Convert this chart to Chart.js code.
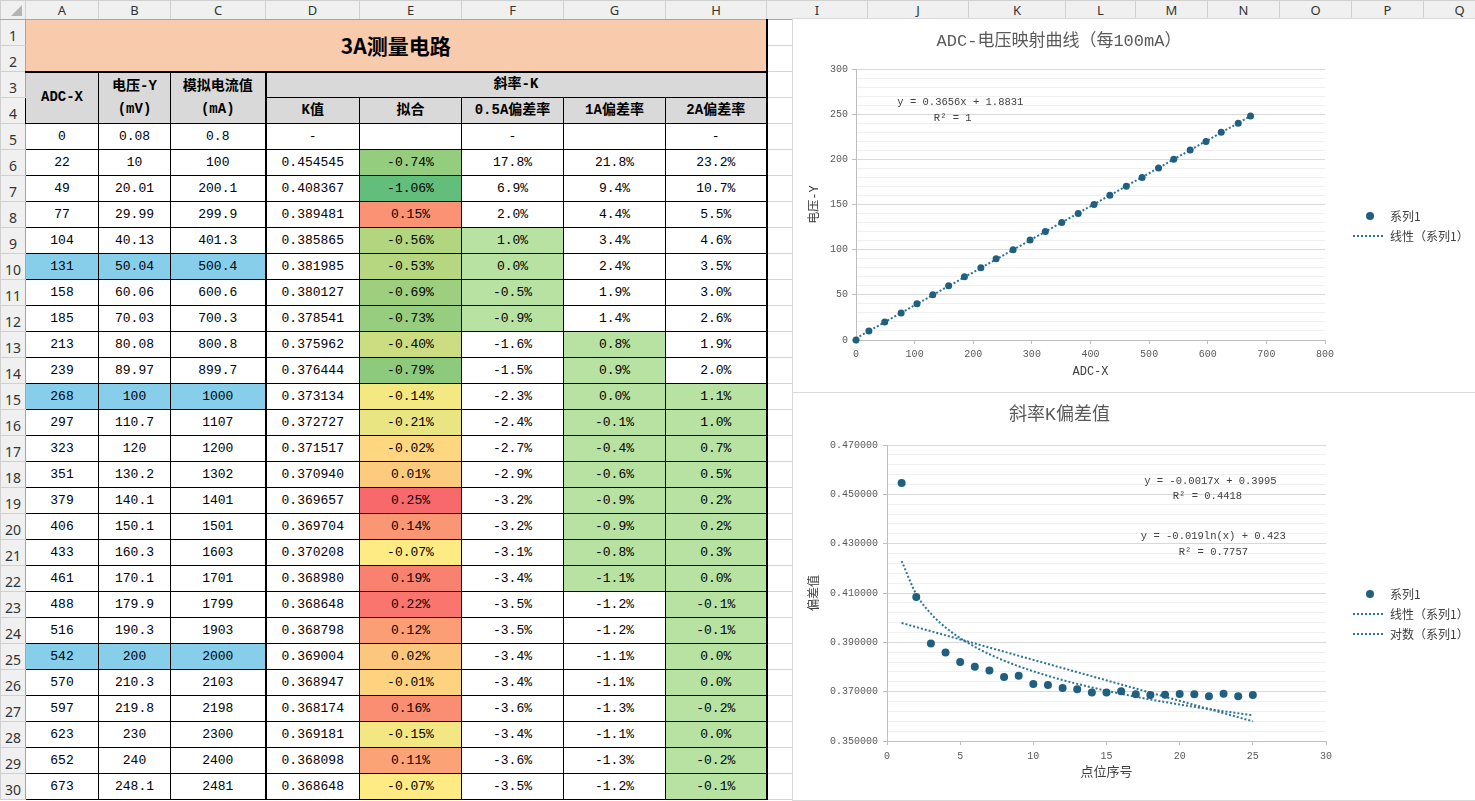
<!DOCTYPE html>
<html lang="zh-CN">
<head>
<meta charset="UTF-8">
<title>3A测量电路</title>
<script src="https://cdn.jsdelivr.net/npm/chart.js"></script>
<style>
  html, body { margin: 0; padding: 0; width: 1475px; height: 801px; overflow: hidden; background: #fff; }
  table.sheet {
    position: absolute; left: 0; top: 0;
    border-collapse: collapse; table-layout: fixed; width: 1495px;
    font-family: "Liberation Mono", "Noto Sans CJK SC", monospace; font-size: 13px; color: #000;
  }
  .sheet td {
    box-sizing: border-box; height: 26px; padding: 0;
    text-align: center; vertical-align: middle; white-space: nowrap; overflow: hidden;
    border: 1px solid #d4d4d4;
  }
  .sheet tr.hdr td {
    height: 18px; background: #f0f0f0; border: 1px solid #d0d0d0; border-bottom-color: #a6a6a6;
    font: 13px "Noto Sans", sans-serif; color: #333;
  }
  .sheet td.rn {
    background: #f0f0f0; border-color: #d0d0d0; border-right-color: #a6a6a6;
    font: 14px "Noto Sans", sans-serif; color: #333; padding-top: 5px;
  }
  .sheet td.c { border: 1px solid #000; }
  .sheet td.title { background: #f8cbad; font: bold 21px "Noto Sans CJK SC", sans-serif; border: 1px solid #a6a6a6; border-right: 2px solid #000; }
  .sheet td.h { background: #d9d9d9; font-weight: bold; font-size: 14px; line-height: 23px; }
  .sheet tr.r3 td.c { border-top: 2px solid #000; }
  .sheet td.thickR { border-right: 2px solid #000; }
  .sheet td.blue { background: #87ceeb; }
  .sheet td.green { background: #b7e2a1; }
  .corner { position: absolute; left: 11px; top: 5px; width: 0; height: 0;
    border-left: 11px solid transparent; border-bottom: 11px solid #b4b4b4; z-index: 1; }
  .chart { position: absolute; box-sizing: border-box; background: #fff; border: 1px solid #d9d9d9; z-index: 2; }
  #box1 { left: 792px; top: 18px; width: 684px; height: 375px; }
  #box2 { left: 792px; top: 392px; width: 684px; height: 409px; }
</style>
</head>
<body>
<table class="sheet" id="sheet"></table>
<div class="corner"></div>
<div class="chart" id="box1"><canvas id="adcChart"></canvas></div>
<div class="chart" id="box2"><canvas id="kChart"></canvas></div>

<script>
// Measured points of the 3A circuit (table rows 5..30)
const adcX = [0, 22, 49, 77, 104, 131, 158, 185, 213, 239, 268, 297, 323,
  351, 379, 406, 433, 461, 488, 516, 542, 570, 597, 623, 652, 673];
const voltageY = [0.08, 10, 20.01, 29.99, 40.13, 50.04, 60.06, 70.03, 80.08, 89.97, 100, 110.7, 120,
  130.2, 140.1, 150.1, 160.3, 170.1, 179.9, 190.3, 200, 210.3, 219.8, 230, 240, 248.1];
const currentMA = [0.8, 100, 200.1, 299.9, 401.3, 500.4, 600.6, 700.3, 800.8, 899.7, 1000, 1107, 1200,
  1302, 1401, 1501, 1603, 1701, 1799, 1903, 2000, 2103, 2198, 2300, 2400, 2481];
const kValues = [null, 0.454545, 0.408367, 0.389481, 0.385865, 0.381985, 0.380127, 0.378541, 0.375962,
  0.376444, 0.373134, 0.372727, 0.371517, 0.370940, 0.369657, 0.369704, 0.370208, 0.368980,
  0.368648, 0.368798, 0.369004, 0.368947, 0.368174, 0.369181, 0.368098, 0.368648];
const fitPct = [null, -0.74, -1.06, 0.15, -0.56, -0.53, -0.69, -0.73, -0.40, -0.79, -0.14, -0.21, -0.02,
  0.01, 0.25, 0.14, -0.07, 0.19, 0.22, 0.12, 0.02, -0.01, 0.16, -0.15, 0.11, -0.07];
const dev05 = [null, 17.8, 6.9, 2.0, 1.0, 0.0, -0.5, -0.9, -1.6, -1.5, -2.3, -2.4, -2.7,
  -2.9, -3.2, -3.2, -3.1, -3.4, -3.5, -3.5, -3.4, -3.4, -3.6, -3.4, -3.6, -3.5];
const dev1 = [null, 21.8, 9.4, 4.4, 3.4, 2.4, 1.9, 1.4, 0.8, 0.9, 0.0, -0.1, -0.4,
  -0.6, -0.9, -0.9, -0.8, -1.1, -1.2, -1.2, -1.1, -1.1, -1.3, -1.1, -1.3, -1.2];
const dev2 = [null, 23.2, 10.7, 5.5, 4.6, 3.5, 3.0, 2.6, 1.9, 2.0, 1.1, 1.0, 0.7,
  0.5, 0.2, 0.2, 0.3, 0.0, -0.1, -0.1, 0.0, 0.0, -0.2, 0.0, -0.2, -0.1];

// Reference rows (0.5A / 1A / 2A) and the ranges shaded green per deviation column
const refRows = [5, 10, 20];
const greenRanges = { dev05: [4, 7], dev1: [8, 17], dev2: [10, 25] };

// Sheet layout
const colLetters = ['A', 'B', 'C', 'D', 'E', 'F', 'G', 'H', 'I', 'J', 'K', 'L', 'M', 'N', 'O', 'P', 'Q'];
const colWidths = [25, 73, 72, 95, 94, 102, 102, 102, 101, 101, 101, 97, 70, 72, 72, 72, 72, 72];
const emptyCols = 9; // I..Q

// Excel style 3-colour scale (green - yellow at median - red)
function colorScale(v, min, mid, max) {
  const lo = [0x63, 0xbe, 0x7b], md = [0xff, 0xeb, 0x84], hi = [0xf8, 0x69, 0x6b];
  let a, b, t;
  if (v <= mid) { a = lo; b = md; t = (v - min) / (mid - min); }
  else { a = md; b = hi; t = (v - mid) / (max - mid); }
  return 'rgb(' + a.map((c, i) => Math.round(c + (b[i] - c) * t)).join(',') + ')';
}

function buildSheet() {
  const fits = fitPct.filter(v => v != null).slice().sort((a, b) => a - b);
  const fMin = fits[0], fMax = fits[fits.length - 1], fMid = fits[Math.floor(fits.length / 2)];
  const blanks = '<td></td>'.repeat(emptyCols);
  let html = '<colgroup>' + colWidths.map(w => `<col style="width:${w}px">`).join('') + '</colgroup>';

  html += '<tr class="hdr"><td></td>' + colLetters.map(l => `<td>${l}</td>`).join('') + '</tr>';
  html += `<tr><td class="rn">1</td><td class="title" colspan="8" rowspan="2">3A测量电路</td>${blanks}</tr>`;
  html += `<tr><td class="rn">2</td>${blanks}</tr>`;
  html += `<tr class="r3"><td class="rn">3</td>
    <td class="c h" rowspan="2">ADC-X</td>
    <td class="c h" rowspan="2">电压-Y<br>(mV)</td>
    <td class="c h thickR" rowspan="2">模拟电流值<br>(mA)</td>
    <td class="c h thickR" colspan="5">斜率-K</td>${blanks}</tr>`;
  html += `<tr><td class="rn">4</td><td class="c h">K值</td><td class="c h">拟合</td>
    <td class="c h">0.5A偏差率</td><td class="c h">1A偏差率</td><td class="c h thickR">2A偏差率</td>${blanks}</tr>`;

  const inRange = (r, i) => i >= r[0] && i <= r[1];
  adcX.forEach((x, i) => {
    const blue = refRows.includes(i) ? ' blue' : '';
    const fitBg = fitPct[i] == null ? '' : ` style="background:${colorScale(fitPct[i], fMin, fMid, fMax)}"`;
    const pct = (v, dash) => v == null ? dash : v.toFixed(1) + '%';
    html += `<tr><td class="rn">${i + 5}</td>
      <td class="c${blue}">${x}</td>
      <td class="c${blue}">${voltageY[i]}</td>
      <td class="c thickR${blue}">${currentMA[i]}</td>
      <td class="c">${kValues[i] == null ? '-' : kValues[i].toFixed(6)}</td>
      <td class="c"${fitBg}>${fitPct[i] == null ? '' : fitPct[i].toFixed(2) + '%'}</td>
      <td class="c${inRange(greenRanges.dev05, i) ? ' green' : ''}">${pct(dev05[i], '-')}</td>
      <td class="c${inRange(greenRanges.dev1, i) ? ' green' : ''}">${pct(dev1[i], '')}</td>
      <td class="c thickR${inRange(greenRanges.dev2, i) ? ' green' : ''}">${pct(dev2[i], '-')}</td>${blanks}</tr>`;
  });
  document.getElementById('sheet').innerHTML = html;
}

// Least squares y = a*x + b
function linearFit(xs, ys) {
  const n = xs.length;
  let sx = 0, sy = 0, sxx = 0, sxy = 0;
  for (let i = 0; i < n; i++) { sx += xs[i]; sy += ys[i]; sxx += xs[i] * xs[i]; sxy += xs[i] * ys[i]; }
  const a = (n * sxy - sx * sy) / (n * sxx - sx * sx);
  return { a, b: (sy - a * sx) / n };
}

// Trendline equations as printed on the chart, placed in data units
const trendLabels = {
  id: 'trendLabels',
  afterDatasetsDraw(chart, args, opts) {
    const { ctx, scales: { x, y } } = chart;
    ctx.save();
    ctx.font = opts.font;
    ctx.fillStyle = '#404040';
    ctx.textAlign = 'center';
    ctx.textBaseline = 'middle';
    opts.items.forEach(it => ctx.fillText(it.text, x.getPixelForValue(it.x), y.getPixelForValue(it.y)));
    ctx.restore();
  }
};

// Legend on the right: dot for the series, dotted sample for trendlines
const sideLegend = {
  id: 'sideLegend',
  afterDraw(chart, args, opts) {
    const { ctx } = chart;
    ctx.save();
    ctx.font = '12px "Noto Sans CJK SC", sans-serif';
    ctx.textBaseline = 'middle';
    chart.data.datasets.forEach((ds, i) => {
      const y = opts.top + i * 20;
      if (ds.trend) {
        ctx.strokeStyle = ds.borderColor;
        ctx.lineWidth = 2;
        ctx.setLineDash([2, 2]);
        ctx.beginPath();
        ctx.moveTo(opts.x, y);
        ctx.lineTo(opts.x + 32, y);
        ctx.stroke();
        ctx.setLineDash([]);
      } else {
        ctx.fillStyle = ds.backgroundColor;
        ctx.beginPath();
        ctx.arc(opts.x + 17, y, 4, 0, Math.PI * 2);
        ctx.fill();
      }
      ctx.fillStyle = '#404040';
      ctx.fillText(ds.label, opts.x + 37, y);
    });
    ctx.restore();
  }
};

Chart.defaults.font.family = '"Liberation Mono", "Noto Sans CJK SC", monospace';
Chart.defaults.color = '#595959';

const dotColor = '#1f5f80';
const trendColor = '#2b7399';

function axisX(min, max, step, title, titleSize, titlePad, height, tickPad) {
  return {
    type: 'linear', min, max,
    ticks: { stepSize: step, font: { size: 10 }, padding: tickPad },
    grid: { drawOnChartArea: false, tickLength: 4, color: '#bfbfbf' },
    border: { color: '#bfbfbf' },
    title: { display: true, text: title, color: '#404040', font: { size: titleSize }, padding: { top: 0, bottom: titlePad } },
    afterFit(s) { s.height = height; }
  };
}

function axisY(min, max, step, majorEvery, fmt, title, width, tickPad) {
  const isMajor = v => Math.abs(Math.round((v - min) / step) % majorEvery) === 0;
  return {
    type: 'linear', min, max,
    ticks: { stepSize: step, autoSkip: false, font: { size: 10 }, padding: tickPad,
      callback: v => isMajor(v) ? fmt(v) : '' },
    grid: {
      tickLength: 4,
      color: c => c.tick && isMajor(c.tick.value) ? '#d9d9d9' : '#f0f0f0',
      tickColor: c => c.tick && isMajor(c.tick.value) ? '#bfbfbf' : 'rgba(0,0,0,0)'
    },
    border: { color: '#bfbfbf' },
    title: { display: true, text: title, color: '#404040', font: { size: 12 }, padding: { top: 15, bottom: 0 } },
    afterFit(s) { s.width = width; }
  };
}

function makeChart() {
  // ADC -> voltage
  const lin1 = linearFit(adcX, voltageY);
  const xMin = Math.min(...adcX), xMax = Math.max(...adcX);
  new Chart(document.getElementById('adcChart'), {
    type: 'scatter',
    data: {
      datasets: [
        { label: '系列1', data: adcX.map((x, i) => ({ x, y: voltageY[i] })),
          backgroundColor: dotColor, borderWidth: 0, pointRadius: 3.5, clip: false },
        { label: '线性（系列1）', trend: true, showLine: true, pointRadius: 0,
          data: [{ x: xMin, y: lin1.a * xMin + lin1.b }, { x: xMax, y: lin1.a * xMax + lin1.b }],
          borderColor: trendColor, borderWidth: 2, borderDash: [2, 2], clip: false }
      ]
    },
    options: {
      responsive: true, maintainAspectRatio: false, animation: false, events: [],
      layout: { padding: { left: 0, right: 150, top: 0, bottom: 0 } },
      scales: {
        x: axisX(0, 800, 100, 'ADC-X', 12, 13, 52, 4),
        y: axisY(0, 300, 10, 5, v => v, '电压-Y', 63, 4)
      },
      plugins: {
        legend: { display: false },
        tooltip: { enabled: false },
        title: { display: true, text: 'ADC-电压映射曲线（每100mA）', color: '#595959',
          font: { size: 17, weight: 'normal', lineHeight: '20px' }, padding: { top: 12, bottom: 18 } },
        trendLabels: { font: '10.5px "Liberation Mono", monospace', items: [
          { text: 'y = 0.3656x + 1.8831', x: 178, y: 263 },
          { text: 'R² = 1', x: 165, y: 245 }
        ] },
        sideLegend: { x: 560, top: 197 }
      }
    },
    plugins: [trendLabels, sideLegend]
  });

  // Slope K per point index
  const pts = kValues.map((k, i) => ({ x: i, y: k })).filter(p => p.y != null);
  const px = pts.map(p => p.x), py = pts.map(p => p.y);
  const lin2 = linearFit(px, py);
  const log2 = linearFit(px.map(Math.log), py);
  new Chart(document.getElementById('kChart'), {
    type: 'scatter',
    data: {
      datasets: [
        { label: '系列1', data: pts, backgroundColor: dotColor, borderWidth: 0, pointRadius: 4, clip: false },
        { label: '线性（系列1）', trend: true, showLine: true, pointRadius: 0,
          data: [px[0], px[px.length - 1]].map(x => ({ x, y: lin2.a * x + lin2.b })),
          borderColor: trendColor, borderWidth: 2, borderDash: [2, 2], clip: false },
        { label: '对数（系列1）', trend: true, showLine: true, pointRadius: 0, cubicInterpolationMode: 'monotone',
          data: px.map(x => ({ x, y: log2.a * Math.log(x) + log2.b })),
          borderColor: trendColor, borderWidth: 2, borderDash: [2, 2], clip: false }
      ]
    },
    options: {
      responsive: true, maintainAspectRatio: false, animation: false, events: [],
      layout: { padding: { left: 0, right: 149, top: 0, bottom: 0 } },
      scales: {
        x: axisX(0, 30, 5, '点位序号', 13, 20, 59, 5),
        y: axisY(0.35, 0.47, 0.004, 5, v => v.toFixed(6), '偏差值', 94, 5)
      },
      plugins: {
        legend: { display: false },
        tooltip: { enabled: false },
        title: { display: true, text: '斜率K偏差值', color: '#595959',
          font: { size: 18, weight: 'normal', lineHeight: '20px' }, padding: { top: 12, bottom: 20 } },
        trendLabels: { font: '10.5px "Liberation Mono", monospace', items: [
          { text: 'y = -0.0017x + 0.3995', x: 22.1, y: 0.4554 },
          { text: 'R² = 0.4418', x: 21.9, y: 0.4493 },
          { text: 'y = -0.019ln(x) + 0.423', x: 22.3, y: 0.4331 },
          { text: 'R² = 0.7757', x: 22.3, y: 0.4266 }
        ] },
        sideLegend: { x: 560, top: 201 }
      }
    },
    plugins: [trendLabels, sideLegend]
  });
}

buildSheet();
makeChart();
</script>
</body>
</html>
